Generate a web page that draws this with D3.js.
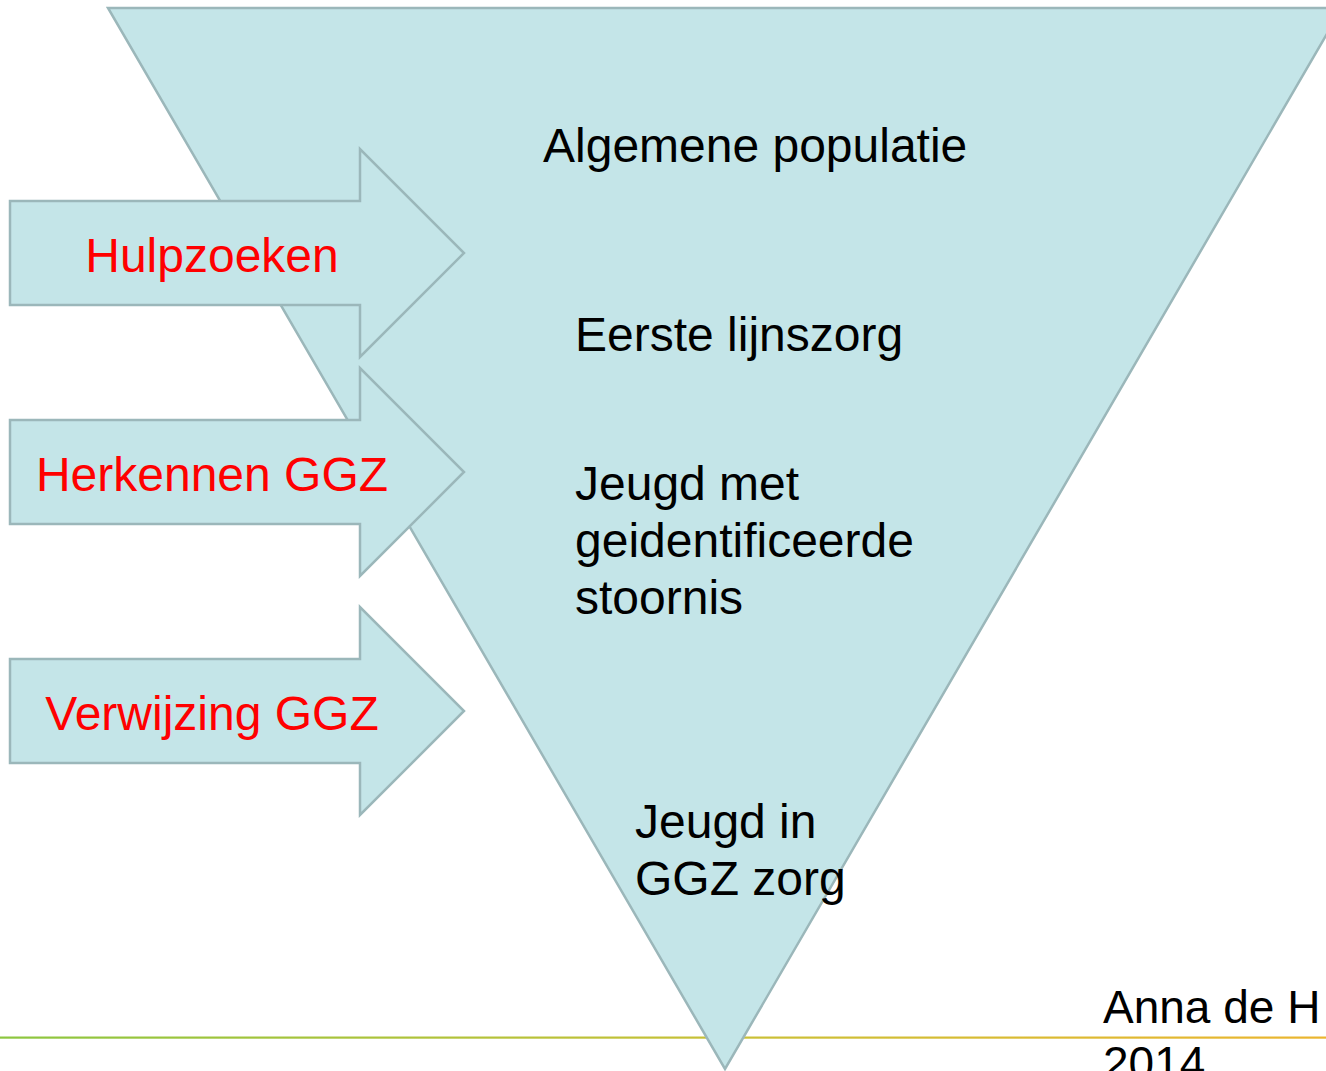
<!DOCTYPE html>
<html>
<head>
<meta charset="utf-8">
<script src="https://cdn.jsdelivr.net/npm/d3@7"></script>
<style>
  body { margin: 0; background: #fff; overflow: hidden; }
</style>
</head>
<body>
<div class="canvas"></div>
<script>
var width = 1326,
	height = 1071;

// data
var funnelLevels = [
	["Algemene populatie"],
	["Eerste lijnszorg"],
	["Jeugd met", "geidentificeerde", "stoornis"],
	["Jeugd in", "GGZ zorg"]
];
var arrowLabels = ["Hulpzoeken", "Herkennen GGZ", "Verwijzing GGZ"];
var credit = ["Anna de H", "2014"];

// layout
var levelPos = [[543, 162], [575, 351], [575, 500], [635, 838]];
var arrowMid = [253, 472, 711];
var lineGap = 57;

var fill = "#c4e5e8",
	edge = "#9bb7ba";

var svg = d3.select(".canvas")
	.append("svg")
	.attr("width", width)
	.attr("height", height);

// footer rule
var grad = svg.append("defs").append("linearGradient")
	.attr("id", "rule")
	.attr("x1", "0%").attr("x2", "100%");
grad.append("stop").attr("offset", "0%").attr("stop-color", "#8cc63f");
grad.append("stop").attr("offset", "55%").attr("stop-color", "#c9c036");
grad.append("stop").attr("offset", "100%").attr("stop-color", "#ebb52f");

svg.append("rect")
	.attr("x", 0).attr("y", 1036.5)
	.attr("width", width).attr("height", 2.2)
	.attr("fill", "url(#rule)");

// funnel (inverted triangle)
var funnelTop = 8, apexX = 725, apexY = 1069, halfW = 617;
svg.append("path")
	.attr("d", d3.line()([[apexX - halfW, funnelTop], [apexX + halfW, funnelTop], [apexX, apexY]]) + "Z")
	.attr("fill", fill)
	.attr("stroke", edge)
	.attr("stroke-width", 2.5)
	.attr("stroke-linejoin", "miter");

// arrows
var shaftL = 10, shaftR = 360, tipX = 464, shaftH = 52, headH = 104;
var arrow = svg.selectAll(".arrow")
	.data(arrowLabels)
	.enter().append("g")
	.attr("class", "arrow")
	.attr("transform", function(d, i) { return "translate(0," + arrowMid[i] + ")"; });

arrow.append("path")
	.attr("d", d3.line()([
		[shaftL, -shaftH], [shaftR, -shaftH], [shaftR, -headH], [tipX, 0],
		[shaftR, headH], [shaftR, shaftH], [shaftL, shaftH]
	]) + "Z")
	.attr("fill", fill)
	.attr("stroke", edge)
	.attr("stroke-width", 2.5);

arrow.append("text")
	.attr("x", 212)
	.attr("y", 19)
	.attr("text-anchor", "middle")
	.attr("font-family", "'Liberation Sans', Arial, sans-serif")
	.attr("font-size", 48)
	.attr("fill", "#ff0000")
	.text(function(d) { return d; });

// funnel labels
funnelLevels.forEach(function(lines, i) {
	var t = svg.append("text")
		.attr("font-family", "'Liberation Sans', Arial, sans-serif")
		.attr("font-size", 48)
		.attr("fill", "#000");
	lines.forEach(function(s, j) {
		t.append("tspan")
			.attr("x", levelPos[i][0])
			.attr("y", levelPos[i][1] + j * lineGap)
			.text(s);
	});
});

// credit (cut off at the bottom edge, as in the source slide)
var c = svg.append("text")
	.attr("font-family", "'Liberation Sans', Arial, sans-serif")
	.attr("font-size", 46)
	.attr("fill", "#000");
credit.forEach(function(s, j) {
	c.append("tspan")
		.attr("x", 1103)
		.attr("y", 1023 + j * 56)
		.text(s);
});
</script>
</body>
</html>
